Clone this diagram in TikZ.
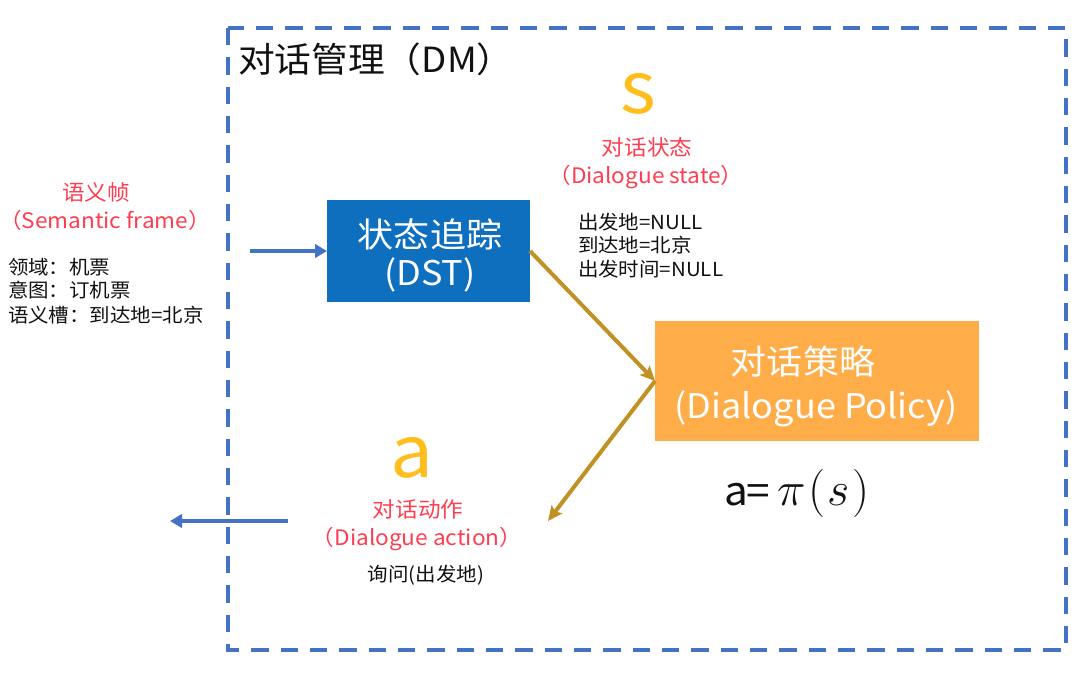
\documentclass[tikz,border=0pt]{standalone}
\usepackage{fontspec}
\usepackage{graphicx}
\setmainfont{Noto Sans CJK SC}[FakeStretch=1.06]
\usetikzlibrary{arrows.meta}
\definecolor{dmblue}{HTML}{4472C4}
\definecolor{dstblue}{HTML}{0F6FBF}
\definecolor{polorange}{HTML}{FFAD48}
\definecolor{goldarrow}{HTML}{C09124}
\definecolor{sym}{HTML}{FFBE1E}
\definecolor{lblred}{HTML}{FF3D50}
\definecolor{txt}{HTML}{111111}
\begin{document}
\begin{tikzpicture}[x=0.75pt,y=-0.75pt,
  every node/.style={inner sep=0pt, outer sep=0pt},
  frame/.style={draw=dmblue, line width=3pt, dash pattern=on 13pt off 9pt},
  boxtxt/.style={anchor=base, text=white, font=\fontsize{25.5pt}{30pt}\selectfont},
  redlbl/.style={anchor=base, text=lblred, font=\fontsize{16pt}{19pt}\selectfont},
  bigsym/.style={anchor=base, text=sym, font=\fontsize{54pt}{60pt}\selectfont},
  small/.style={anchor=base west, text=txt, font=\fontsize{14.5pt}{17pt}\selectfont},
  bluearrow/.style={draw=dmblue, line width=3pt, -{Triangle[length=9pt,width=10pt]}},
  goldarr/.style={draw=goldarrow, line width=3pt, -{Stealth[length=11pt,width=10pt,inset=2pt]}}
]
\useasboundingbox (0,0) rectangle (1090,672);

% frame
\draw[frame] (228,28) rectangle (1066,650);
\node[anchor=base west, text=txt, font=\fontsize{26pt}{30pt}\selectfont] (title) at (238,72) {对话管理（DM）};

% boxes
\node[fill=dstblue, minimum width=152.25pt, minimum height=76.5pt] (dst) at (428.5,251) {};
\node[boxtxt] (dstA) at (430,247) {状态追踪};
\node[boxtxt] (dstB) at (430,285) {(DST)};

\node[fill=polorange, minimum width=243pt, minimum height=90pt] (pol) at (817,381) {};
\node[boxtxt] (polA) at (803,374) {对话策略};
\node[boxtxt] (polB) at (816,418) {(Dialogue Policy)};

\node[anchor=base, text=txt, font=\fontsize{30pt}{34pt}\selectfont] (formula) at (797,505)
  {a\kern-1pt=\kern5pt\scalebox{1.45}{$\pi\mkern1mu(\mkern1mu s\mkern1mu)$}};

% state
\node[bigsym] (s) at (638,113) {s};
\node[redlbl] (stA) at (647,155) {对话状态};
\node[redlbl] (stB) at (646,183) {（Dialogue state）};
\node[small] (st1) at (578,229) {出发地=NULL};
\node[small] (st2) at (578,252) {到达地=北京};
\node[small] (st3) at (578,276) {出发时间=NULL};

% action
\node[bigsym] (a) at (412,477) {a};
\node[redlbl] (acA) at (418,517) {对话动作};
\node[redlbl] (acB) at (417,545) {（Dialogue action）};
\node[anchor=base, text=txt, font=\fontsize{14.5pt}{17pt}\selectfont] (acC) at (426,581) {询问(出发地)};

% semantic frame
\node[redlbl] (sfA) at (96,200) {语义帧};
\node[redlbl] (sfB) at (105,228) {（Semantic frame）};
\node[small] (sf1) at (8,274) {领域：机票};
\node[small] (sf2) at (8,297) {意图：订机票};
\node[small] (sf3) at (8,322) {语义槽：到达地=北京};

% connectors
\coordinate (inS) at (250,251);
\coordinate (outS) at (288,521);
\coordinate (outE) at (170,521);
\coordinate (actE) at (548,521);
\draw[bluearrow] (inS) -- (dst.west);
\draw[bluearrow] (outS) -- (outE);
\draw[goldarr] (dst.east) -- (pol.west);
\draw[goldarr] (pol.west) -- (actE);
\end{tikzpicture}
\end{document}
